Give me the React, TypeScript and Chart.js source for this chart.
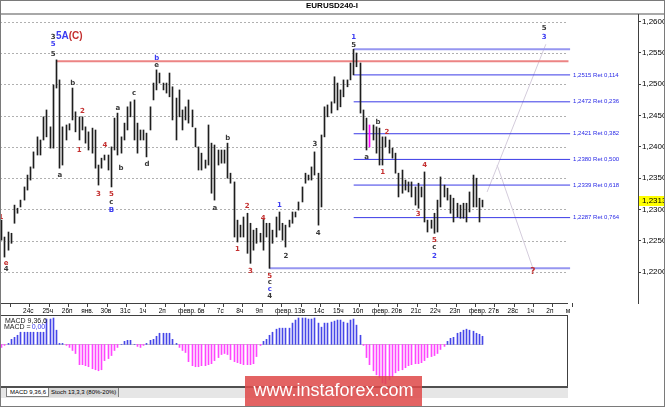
import React, { useEffect, useRef } from "react";
import { Chart, registerables } from "chart.js";

Chart.register(...registerables);

// ---------- DATA ----------
const barHigh = [
  1.2283, 1.2256, 1.2264, 1.2262, 1.2307, 1.2302, 1.2315, 1.2336, 1.2355, 1.2368,
  1.2392, 1.2416, 1.2411, 1.2448, 1.2459, 1.2432, 1.2499, 1.2539, 1.2507, 1.2432,
  1.2435, 1.2437, 1.2494, 1.2456, 1.2448, 1.2448, 1.2432, 1.2424, 1.2430, 1.2427,
  1.2371, 1.2382, 1.2387, 1.2387, 1.2400, 1.2446, 1.2454, 1.2416, 1.2438, 1.2464,
  1.2472, 1.2475, 1.2438, 1.2427, 1.2427, 1.2422, 1.2464, 1.2502, 1.2523, 1.2518,
  1.2502, 1.2502, 1.2518, 1.2496, 1.2478, 1.2491, 1.2459, 1.2464, 1.2475, 1.2459,
  1.2430, 1.2400, 1.2390, 1.2379, 1.2435, 1.2406, 1.2403, 1.2395, 1.2395, 1.2395,
  1.2406, 1.2358, 1.2344, 1.2283, 1.2275, 1.2288, 1.2294, 1.2278, 1.2267, 1.2270,
  1.2262, 1.2286, 1.2278, 1.2278, 1.2267, 1.2288, 1.2296, 1.2278, 1.2275, 1.2283,
  1.2296, 1.2296, 1.2312, 1.2336, 1.2358, 1.2355, 1.2368, 1.2392, 1.2358, 1.2419,
  1.2464, 1.2467, 1.2472, 1.2512, 1.2502, 1.2491, 1.2507, 1.2507, 1.2534, 1.2556,
  1.2550, 1.2534, 1.2459, 1.2446, 1.2435, 1.2435, 1.2432, 1.2430, 1.2416, 1.2416,
  1.2411, 1.2398, 1.2390, 1.2358, 1.2363, 1.2347, 1.2344, 1.2344, 1.2336, 1.2342,
  1.2336, 1.2360, 1.2283, 1.2283, 1.2294, 1.2315, 1.2352, 1.2339, 1.2334, 1.2323,
  1.2318, 1.2310, 1.2307, 1.2310, 1.2310, 1.2328, 1.2355, 1.2350, 1.2318, 1.2315,
];
const barLow = [
  1.2251, 1.2224, 1.2235, 1.2246, 1.2278, 1.2294, 1.2304, 1.2315, 1.2331, 1.2347,
  1.2366, 1.2387, 1.2387, 1.2411, 1.2416, 1.2398, 1.2398, 1.2494, 1.2366, 1.2371,
  1.2411, 1.2427, 1.2443, 1.2424, 1.2411, 1.2427, 1.2406, 1.2395, 1.2390, 1.2366,
  1.2339, 1.2366, 1.2379, 1.2363, 1.2336, 1.2395, 1.2387, 1.2390, 1.2411, 1.2427,
  1.2448, 1.2411, 1.2390, 1.2411, 1.2411, 1.2384, 1.2427, 1.2475, 1.2491, 1.2502,
  1.2491, 1.2486, 1.2480, 1.2443, 1.2411, 1.2448, 1.2427, 1.2443, 1.2438, 1.2432,
  1.2400, 1.2363, 1.2363, 1.2366, 1.2371, 1.2326, 1.2315, 1.2371, 1.2374, 1.2374,
  1.2350, 1.2342, 1.2256, 1.2248, 1.2256, 1.2256, 1.2230, 1.2214, 1.2235, 1.2246,
  1.2248, 1.2235, 1.2256, 1.2206, 1.2246, 1.2256, 1.2267, 1.2251, 1.2240, 1.2272,
  1.2278, 1.2288, 1.2299, 1.2312, 1.2342, 1.2347, 1.2347, 1.2355, 1.2275, 1.2304,
  1.2416, 1.2448, 1.2454, 1.2470, 1.2459, 1.2464, 1.2480, 1.2496, 1.2507, 1.2515,
  1.2528, 1.2454, 1.2427, 1.2395, 1.2400, 1.2411, 1.2390, 1.2371, 1.2371, 1.2400,
  1.2390, 1.2382, 1.2358, 1.2320, 1.2326, 1.2331, 1.2328, 1.2320, 1.2307, 1.2302,
  1.2320, 1.2280, 1.2264, 1.2270, 1.2262, 1.2264, 1.2304, 1.2320, 1.2315, 1.2294,
  1.2280, 1.2288, 1.2286, 1.2286, 1.2280, 1.2296, 1.2304, 1.2304, 1.2280, 1.2304,
];
const highlightBar = 114;

const dayLabels = [
  "24с", "25ч", "26п", "янв.", "30в", "31с", "1ч", "2п", "февр.", "6в", "7с", "8ч", "9п",
  "февр.", "13в", "14с", "15ч", "16п", "февр.", "20в", "21с", "22ч", "23п", "февр.",
  "27в", "28с", "1ч", "2п", "м",
];
const barsPerDay = 6;
const firstDayTick = 5.7;

const priceTicks = [1.22, 1.225, 1.23, 1.235, 1.24, 1.245, 1.25, 1.255, 1.26];
const lastPrice = 1.2313;

const fibLevels = [1.2556, 1.2515, 1.2472, 1.2421, 1.238, 1.2339, 1.2287, 1.2206];
const fibRatios = ["", "0,114", "0,236", "0,382", "0,500", "0,618", "0,764", ""];
const fibStart = [109, 109, 109, 109, 109, 109, 109, 83];
const fibEnd = 176;

const resistanceLevel = 1.2537;
const resistanceStart = 17;
const resistanceEnd = 175.5;

const forecastUpBars = [150.3, 168.5];
const forecastUpPrices = [1.2328, 1.2564];
const forecastDownBars = [153.4, 164.5];
const forecastDownPrices = [1.2371, 1.2206];

// MACD histogram, in units of 0.0001
const macdHist = [
  -3, -1, 1, 5, 7, 9, 12, 12, 12, 12, 12, 12, 12, 12, 25, 25, 26, 14, 1, 1,
  -1, -3, -6, -9, -20, -20, -21, -22, -24, -25, -26, -25, -16, -14, -11, -6, -3, 0, 3, 4,
  4, 0, -2, -3, -1, 1, 4, 5, 8, 11, 11, 11, 11, 5, 1, -3, -6, -8, -17, -21,
  -22, -22, -21, -21, -20, -19, -16, -13, -10, -9, -10, -15, -17, -18, -19, -20, -20, -20, -19, -12,
  -1, 3, 5, 9, 12, 15, 16, 16, 16, 16, 21, 24, 26, 26, 26, 25, 25, 26, 21, 17,
  21, 21, 22, 23, 24, 24, 22, 21, 24, 25, 19, 9, -1, -13, -20, -26, -30, -33, -38, -39,
  -35, -32, -28, -26, -25, -23, -21, -20, -19, -19, -18, -16, -13, -12, -11, -9, -5, -2, 3, 6,
  7, 11, 12, 14, 15, 14, 13, 11, 10, 8,
];

// wave labels: text, bar position, price, colour key
const waveLabels: [string, number, number, string][] = [
  ["3", 16, 1.2576, "k"], ["5", 16, 1.2564, "b"], ["5", 16, 1.2548, "k"],
  ["b", 48, 1.2542, "b"], ["e", 48, 1.2531, "k"],
  ["b", 22, 1.2502, "k"], ["2", 25, 1.2457, "r"], ["1", 24, 1.2395, "r"], ["a", 18, 1.2355, "k"],
  ["3", 30, 1.2325, "r"], ["4", 32, 1.2403, "r"],
  ["5", 34, 1.2325, "r"], ["c", 34, 1.2312, "k"], ["B", 34, 1.2299, "b"],
  ["a", 36, 1.2462, "k"], ["b", 37, 1.2366, "k"], ["c", 41, 1.2486, "k"], ["d", 45, 1.2373, "k"],
  ["a", 66, 1.2302, "k"], ["b", 70, 1.2414, "k"],
  ["1", 73, 1.2237, "r"], ["2", 76, 1.2306, "r"], ["3", 77, 1.2202, "r"], ["4", 81, 1.2286, "r"],
  ["5", 83, 1.2194, "r"], ["c", 83, 1.2184, "k"], ["c", 83, 1.2173, "b"], ["4", 83, 1.2162, "k"],
  ["1", 86, 1.2307, "b"], ["2", 88, 1.2226, "k"], ["3", 97, 1.2405, "k"], ["4", 98, 1.2262, "k"],
  ["1", 109, 1.2576, "b"], ["5", 109, 1.2563, "k"],
  ["a", 113, 1.2384, "k"], ["b", 116.5, 1.244, "k"], ["2", 119.3, 1.2424, "r"], ["1", 118, 1.236, "r"],
  ["3", 129, 1.2293, "r"], ["4", 131, 1.237, "r"],
  ["5", 134, 1.2251, "r"], ["c", 134, 1.2239, "k"], ["2", 134, 1.2226, "b"],
  ["5", 168, 1.259, "k"], ["3", 168, 1.2576, "b"], ["?", 164.5, 1.22, "r"],
  ["e", 1.4, 1.2215, "r"], ["4", 1.4, 1.2205, "k"], ["1", -0.2, 1.2288, "r"],
];
const degreeLabelParts: [string, string][] = [["5A", "b"], ["(C)", "r"]];
const degreeLabelBar = 16.8;
const degreeLabelPrice = 1.2576;

// ---------- STYLE ----------
const labelColors: Record<string, string> = { r: "#C43030", k: "#383838", b: "#3B3BF2" };
const X_MIN = -0.5;
const PX_PER_BAR = 3.23;
const PLOT_RIGHT = 638;
const GRID_RIGHT = 567;

function MainChart() {
  const ref = useRef<HTMLCanvasElement>(null);
  useEffect(() => {
    const canvas = ref.current!;
    const deco = {
      id: "deco",
      afterDatasetsUpdate(chart: any) {
        chart.getDatasetMeta(0).data.forEach((el: any) => {
          el.x = Math.floor(el.x) + 0.5;
        });
      },
      beforeDatasetsDraw(chart: any) {
        const { ctx, scales } = chart;
        ctx.save();
        ctx.strokeStyle = "#B0B0B0";
        ctx.lineWidth = 1;
        ctx.setLineDash([2, 2]);
        priceTicks.forEach((t) => {
          const y = Math.round(scales.y.getPixelForValue(t)) + 0.5;
          ctx.beginPath();
          ctx.moveTo(0, y);
          ctx.lineTo(GRID_RIGHT, y);
          ctx.stroke();
        });
        ctx.restore();
      },
      afterDraw(chart: any) {
        const { ctx, scales, chartArea } = chart;
        const xs = scales.x;
        const ys = scales.y;
        ctx.save();
        // top band
        ctx.fillStyle = "#A8A8A8";
        ctx.fillRect(0, chartArea.top - 1, 665, 2);
        // title
        ctx.fillStyle = "#000";
        ctx.font = 'bold 8px "Liberation Sans"';
        ctx.textAlign = "center";
        ctx.textBaseline = "middle";
        ctx.fillText("EURUSD240-I", 332, 6);
        // axis lines
        ctx.fillStyle = "#404040";
        ctx.fillRect(PLOT_RIGHT, chartArea.top, 1, chartArea.bottom - chartArea.top + 1);
        ctx.fillRect(0, chartArea.bottom, GRID_RIGHT + 1, 1);
        // fib labels
        ctx.font = '6px "Liberation Sans"';
        ctx.textAlign = "left";
        ctx.fillStyle = "#2828E6";
        fibLevels.forEach((lv, i) => {
          if (!fibRatios[i]) return;
          const y = ys.getPixelForValue(lv);
          ctx.fillText(
            lv.toFixed(4).replace(".", ",") + " Ret " + fibRatios[i],
            xs.getPixelForValue(fibEnd) + 3,
            y
          );
        });
        // wave labels
        ctx.font = 'bold 7px "DejaVu Sans"';
        ctx.textAlign = "center";
        waveLabels.forEach(([t, b, p, c]) => {
          ctx.fillStyle = labelColors[c];
          ctx.font = t === "?" ? 'bold 9px "DejaVu Sans"' : 'bold 7px "DejaVu Sans"';
          ctx.fillText(t, xs.getPixelForValue(b), ys.getPixelForValue(p));
        });
        ctx.font = 'bold 10px "Liberation Sans"';
        ctx.textAlign = "left";
        let dx = xs.getPixelForValue(degreeLabelBar);
        const dy = ys.getPixelForValue(degreeLabelPrice);
        degreeLabelParts.forEach(([t, c]) => {
          ctx.fillStyle = labelColors[c];
          ctx.fillText(t, dx, dy);
          dx += ctx.measureText(t).width;
        });
        // last price box
        const ly = ys.getPixelForValue(lastPrice);
        ctx.fillStyle = "#FFFF00";
        ctx.fillRect(PLOT_RIGHT + 1, Math.round(ly) - 5, 665 - PLOT_RIGHT - 1, 10);
        ctx.fillStyle = "#000";
        ctx.font = '8px "Liberation Sans"';
        ctx.textAlign = "left";
        ctx.fillText(lastPrice.toFixed(4).replace(".", ","), PLOT_RIGHT + 4, Math.round(ly));
        ctx.restore();
      },
    };

    const lineDs = (xsArr: number[], ysArr: number[], color: string, width: number) => ({
      type: "line" as const,
      data: xsArr.map((x, i) => ({ x, y: ysArr[i] })),
      borderColor: color,
      borderWidth: width,
      pointRadius: 0,
      fill: false,
      tension: 0,
    });

    const datasets: any[] = [
      {
        type: "bar",
        data: barHigh.map((h, i) => ({ x: i, y: [barLow[i], h] })),
        backgroundColor: barHigh.map((_, i) => (i === highlightBar ? "#FF00FF" : "#1E1E1E")),
        borderWidth: 0,
        barThickness: 1,
        grouped: false,
      },
      lineDs([resistanceStart, resistanceEnd], [resistanceLevel, resistanceLevel], "#EC8484", 2),
      ...fibLevels.map((lv, i) =>
        lineDs(
          [fibStart[i], fibEnd],
          [lv, lv],
          i === 0 || i === fibLevels.length - 1 ? "#9696F0" : "#3A3AE6",
          i === 0 || i === fibLevels.length - 1 ? 2 : 1
        )
      ),
      lineDs(forecastUpBars, forecastUpPrices, "#D4CCDC", 1),
      lineDs(forecastDownBars, forecastDownPrices, "#D4CCDC", 1),
    ];

    const chart = new Chart(canvas, {
      type: "bar",
      data: { datasets },
      options: {
        responsive: false,
        animation: false,
        devicePixelRatio: 1,
        layout: { padding: { top: 14, left: 0, right: 0, bottom: 0 } },
        plugins: { legend: { display: false }, tooltip: { enabled: false }, title: { display: false } },
        scales: {
          x: {
            type: "linear",
            min: X_MIN,
            max: X_MIN + PLOT_RIGHT / PX_PER_BAR,
            offset: false,
            border: { display: false },
            grid: { drawOnChartArea: false, drawTicks: true, tickLength: 4, color: "#404040" },
            ticks: {
              autoSkip: false,
              maxRotation: 0,
              align: "start",
              labelOffset: 3,
              padding: 0,
              color: "#000",
              font: { family: "Liberation Sans", size: 6.5 },
              callback: (_v: any, i: number) => dayLabels[i],
            },
            afterBuildTicks: (scale: any) => {
              scale.ticks = dayLabels.map((_, k) => ({ value: firstDayTick + barsPerDay * k }));
            },
            afterFit: (scale: any) => {
              scale.height = 13;
              scale.paddingLeft = 0;
              scale.paddingRight = 0;
            },
          },
          y: {
            position: "right",
            min: 1.21506,
            max: 1.26123,
            border: { display: false },
            grid: { drawOnChartArea: false, drawTicks: true, tickLength: 3, color: "#404040" },
            ticks: {
              padding: 1,
              color: "#000",
              font: { family: "Liberation Sans", size: 8 },
              callback: (v: any) => Number(v).toFixed(4).replace(".", ","),
            },
            afterBuildTicks: (scale: any) => {
              scale.ticks = priceTicks.map((v) => ({ value: v }));
            },
            afterFit: (scale: any) => {
              scale.width = 665 - PLOT_RIGHT;
              scale.paddingTop = 0;
              scale.paddingBottom = 0;
            },
          },
        },
      } as any,
      plugins: [deco],
    });
    return () => chart.destroy();
  }, []);
  return (
    <canvas
      ref={ref}
      width={665}
      height={316}
      style={{ position: "absolute", left: 0, top: 0, width: 665, height: 316 }}
    />
  );
}

function MacdChart() {
  const ref = useRef<HTMLCanvasElement>(null);
  useEffect(() => {
    const canvas = ref.current!;
    const deco = {
      id: "macdDeco",
      afterDatasetsUpdate(chart: any) {
        chart.getDatasetMeta(0).data.forEach((el: any) => {
          el.x = Math.floor(el.x) + 0.5;
        });
      },
      beforeDatasetsDraw(chart: any) {
        const { ctx, scales } = chart;
        const y = Math.round(scales.y.getPixelForValue(0)) + 0.5;
        ctx.save();
        ctx.strokeStyle = "#C8C8C8";
        ctx.beginPath();
        ctx.moveTo(0, y);
        ctx.lineTo(scales.x.getPixelForValue(macdHist.length - 1), y);
        ctx.stroke();
        ctx.restore();
      },
      afterDraw(chart: any) {
        const { ctx } = chart;
        ctx.save();
        ctx.strokeStyle = "#404040";
        ctx.lineWidth = 1;
        ctx.strokeRect(0.5, 0.5, 567, 71);
        ctx.fillStyle = "#505050";
        ctx.fillRect(0, 71, 568, 2);
        ctx.font = '7px "Liberation Sans"';
        ctx.textBaseline = "middle";
        ctx.textAlign = "left";
        ctx.fillStyle = "#202020";
        ctx.fillText("MACD 9,36,6", 5, 6);
        ctx.fillText("MACD =", 4, 12.5);
        const w = ctx.measureText("MACD =").width;
        ctx.fillStyle = "#3B3BF2";
        ctx.fillText("0,00", 4 + w + 1, 12.5);
        ctx.restore();
      },
    };
    const chart = new Chart(canvas, {
      type: "bar",
      data: {
        datasets: [
          {
            data: macdHist.map((v, i) => ({ x: i, y: v })),
            backgroundColor: macdHist.map((v) => (v >= 0 ? "#4646E8" : "#FF46FF")),
            borderWidth: 0,
            barThickness: 1,
          } as any,
        ],
      },
      options: {
        responsive: false,
        animation: false,
        devicePixelRatio: 1,
        layout: { padding: 0 },
        plugins: { legend: { display: false }, tooltip: { enabled: false } },
        scales: {
          x: { type: "linear", display: false, offset: false, min: X_MIN, max: X_MIN + 568 / PX_PER_BAR },
          y: { display: false, min: -43, max: 29 },
        },
      } as any,
      plugins: [deco],
    });
    return () => chart.destroy();
  }, []);
  return (
    <canvas
      ref={ref}
      width={568}
      height={73}
      style={{ position: "absolute", left: 0, top: 315, width: 568, height: 73 }}
    />
  );
}

export default function App() {
  const tabFont = { fontFamily: '"Liberation Sans", sans-serif', fontSize: 6, lineHeight: "9px" } as const;
  return (
    <div
      style={{
        position: "absolute",
        left: 0,
        top: 0,
        width: 665,
        height: 407,
        background: "#fff",
        overflow: "hidden",
      }}
    >
      <MainChart />
      <MacdChart />
      <div style={{ position: "absolute", left: 0, top: 388, width: 568, height: 10, background: "#E6E6E6" }} />
      <div
        style={{
          position: "absolute",
          left: 6,
          top: 388,
          width: 43,
          height: 9,
          background: "#fff",
          border: "1px solid #808080",
          borderTop: "none",
          boxSizing: "border-box",
          color: "#000",
          paddingLeft: 3,
          whiteSpace: "nowrap",
          overflow: "hidden",
          ...tabFont,
        }}
      >
        MACD 9,36,6
      </div>
      <div
        style={{
          position: "absolute",
          left: 49,
          top: 388,
          width: 70,
          height: 9,
          background: "#D8D8D8",
          borderRight: "1px solid #808080",
          boxSizing: "border-box",
          color: "#000",
          paddingLeft: 2,
          whiteSpace: "nowrap",
          overflow: "hidden",
          ...tabFont,
        }}
      >
        Stoch 13,3,3 (80%-20%)
      </div>
      <div
        style={{
          position: "absolute",
          left: 245,
          top: 376,
          width: 177,
          height: 31,
          background: "rgba(222, 72, 72, 0.85)",
          color: "#fff",
          fontFamily: '"Liberation Sans", Arial, sans-serif',
          fontSize: 18,
          lineHeight: "29px",
          textAlign: "center",
          whiteSpace: "nowrap",
        }}
      >
        www.instaforex.com
      </div>
      <div
        style={{
          position: "absolute",
          left: 0,
          top: 0,
          width: 665,
          height: 407,
          boxSizing: "border-box",
          border: "1px solid #7A7A7A",
          pointerEvents: "none",
        }}
      />
    </div>
  );
}
